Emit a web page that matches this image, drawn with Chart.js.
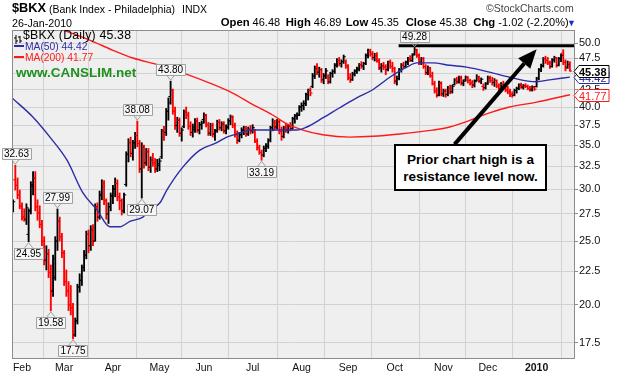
<!DOCTYPE html>
<html><head><meta charset="utf-8">
<script src="https://cdn.jsdelivr.net/npm/chart.js@4.4.1/dist/chart.umd.min.js"></script>
<style>
html,body{margin:0;padding:0;background:#fff;}
#wrap{position:relative;width:618px;height:374px;overflow:hidden;font-family:"Liberation Sans",Arial,sans-serif;color:#000;}
#c{position:absolute;left:0;top:0;}
.t{position:absolute;white-space:nowrap;line-height:1;}
#note{position:absolute;left:394px;top:144px;width:149px;height:38px;border:2px solid #000;background:#fff;
 font-weight:bold;font-size:13.5px;line-height:17px;text-align:center;padding-top:5px;}
</style></head><body>
<div id="wrap">
<canvas id="c" width="618" height="374"></canvas>
<div class="t" style="left:12px;top:2.4px;font-size:12.8px;font-weight:bold">$BKX</div>
<div class="t" style="left:49px;top:3.8px;font-size:10.5px">(Bank Index - Philadelphia)</div>
<div class="t" style="left:182px;top:3.8px;font-size:10.5px">INDX</div>
<div class="t" style="left:486px;top:3.2px;font-size:10.5px;color:#444">©StockCharts.com</div>
<div class="t" style="left:12px;top:17.6px;font-size:10.7px">26-Jan-2010</div>
<div class="t" style="left:220.7px;top:17.2px;font-size:11px"><b style="font-size:11.3px">Open</b> 46.48</div>
<div class="t" style="left:285.7px;top:17.2px;font-size:11px"><b style="font-size:11.3px">High</b> 46.89</div>
<div class="t" style="left:345.7px;top:17.2px;font-size:11px"><b style="font-size:11.3px">Low</b> 45.35</div>
<div class="t" style="left:405.7px;top:17.2px;font-size:11px"><b style="font-size:11.3px">Close</b> 45.38</div>
<div class="t" style="left:473.3px;top:17.2px;font-size:11px"><b style="font-size:11.3px">Chg</b> -1.02 (-2.20%)</div>
<div class="t" style="left:567px;top:18.5px;font-size:9px;color:#1030d0">▼</div>
<div class="t" style="left:14px;top:31px;"><svg width="9" height="9" viewBox="0 0 9 9"><path d="M2 0V9M0 3H2M2 6H4M6 1V8M4 2H6M6 6H8" stroke="#000" stroke-width="1" fill="none"/></svg></div>
<div class="t" style="left:23px;top:29.3px;font-size:12.3px;letter-spacing:0.2px">$BKX (Daily) 45.38</div>
<div class="t" style="left:14px;top:45px;width:10px;height:2px;background:#2c2ca8"></div>
<div class="t" style="left:25px;top:41.5px;font-size:10.3px;color:#2c2ca8">MA(50) 44.42</div>
<div class="t" style="left:14px;top:56px;width:10px;height:2px;background:#ff1a1a"></div>
<div class="t" style="left:25px;top:52.5px;font-size:10.3px;color:#ff1a1a">MA(200) 41.77</div>
<div class="t" style="left:16px;top:65.6px;font-size:13.5px;font-weight:bold;color:#1f8f1f">www.CANSLIM.net</div>
<div id="note">Prior chart high is a<br>resistance level now.</div>
</div>
<script>
// ---- data (daily OHLC, index 0 = 27-Jan-2009 ... 251 = 26-Jan-2010) ----
const openP = [
28.0,31.0,30.4,29.4,28.3,27.2,27.0,25.6,27.8,30.3,31.2,28.2,27.6,26.5,25.0,23.4,23.9,22.4,21.0,22.0,
25.0,26.8,25.4,24.0,21.7,21.0,20.0,19.8,18.0,18.9,21.3,21.8,22.8,23.8,25.6,24.6,26.0,25.0,28.2,27.2,
29.4,30.6,28.8,27.5,28.2,29.3,30.0,30.6,29.2,28.8,27.8,30.5,33.9,35.3,34.0,35.3,36.2,35.2,32.2,34.8,
32.9,34.2,32.4,33.2,32.9,32.2,32.6,33.6,36.8,36.6,39.4,41.5,42.4,39.4,37.5,38.2,36.5,37.4,39.3,38.9,
37.4,36.6,37.0,38.1,36.9,37.6,38.3,38.9,37.6,36.5,37.5,36.4,36.8,37.9,37.2,37.7,36.8,37.3,38.1,38.6,
37.5,36.3,35.6,36.3,36.9,37.1,36.4,37.0,36.8,36.9,35.5,34.7,34.1,33.8,34.6,34.9,35.6,37.2,37.9,37.3,
38.0,36.7,36.1,37.2,36.9,37.4,37.1,38.4,38.8,38.9,40.0,40.2,40.5,41.8,42.4,43.0,44.6,45.9,45.2,45.6,
44.0,44.6,44.6,43.7,45.0,45.3,46.3,47.1,46.6,46.9,47.0,46.2,44.3,44.0,44.9,45.4,45.7,46.4,46.2,46.6,
47.9,48.6,48.2,47.6,47.9,47.0,45.9,46.2,46.0,45.6,46.8,46.1,45.8,43.8,44.2,45.5,46.3,46.1,46.8,47.3,
47.1,48.2,48.9,47.9,46.8,47.4,46.1,45.1,45.8,44.6,43.4,42.3,41.7,43.5,41.9,42.3,41.8,42.7,42.2,43.3,
44.0,43.7,44.3,43.5,44.0,44.4,43.9,43.5,43.2,43.9,44.5,43.8,43.0,42.8,43.4,44.3,43.9,43.6,43.9,43.1,
42.6,43.3,43.0,42.5,42.2,41.8,41.7,42.4,42.7,43.2,42.9,43.1,43.0,42.7,42.5,42.9,43.0,44.2,45.6,46.2,
47.4,47.1,46.7,46.1,47.2,47.5,46.3,47.4,48.3,46.8,46.0,46.48];
const highP = [
28.9,32.63,31.2,29.9,28.6,28.0,28.5,28.0,30.8,31.9,31.9,28.9,28.3,26.9,25.4,24.6,24.3,23.0,23.8,25.4,
27.99,27.2,25.7,24.2,22.6,21.7,21.4,20.1,19.1,21.5,22.3,23.0,24.2,25.9,26.0,26.4,26.5,28.5,28.6,29.8,
31.0,30.9,29.0,28.6,29.6,30.4,31.2,31.0,29.6,29.0,29.6,34.2,35.8,36.0,35.6,36.6,38.08,35.6,35.3,35.0,
34.6,34.6,33.6,34.0,33.4,33.3,33.4,37.0,37.4,39.8,41.3,43.80,42.6,40.0,38.6,38.5,37.2,39.6,40.0,39.3,
38.0,37.7,38.4,38.5,37.9,38.1,39.2,39.0,37.9,37.8,37.8,37.0,38.2,38.3,38.0,38.0,37.6,38.4,38.9,38.8,
37.8,36.8,36.6,37.2,37.4,37.4,37.3,37.5,37.6,37.0,35.8,35.0,34.4,34.9,35.2,35.8,37.4,38.4,38.2,38.3,
38.2,37.3,37.4,37.8,37.6,37.9,38.6,39.0,39.2,40.2,40.6,40.9,42.0,42.6,42.8,45.0,46.2,46.6,46.0,45.8,
45.0,45.8,44.8,45.2,45.6,46.6,47.4,47.6,47.2,48.0,47.2,46.4,45.0,45.2,45.6,46.0,46.6,46.9,46.8,48.2,
49.0,49.0,48.6,48.3,48.4,47.4,46.6,46.8,46.4,47.0,47.2,46.8,46.0,44.6,45.8,46.6,46.8,47.0,47.6,47.9,
48.2,49.28,49.0,48.2,47.6,47.6,46.4,46.2,46.0,45.2,43.8,42.8,43.8,43.7,42.6,42.6,43.0,43.2,43.2,44.2,
44.4,44.6,44.6,44.0,44.6,44.5,44.1,43.9,44.0,44.8,44.6,44.3,43.4,43.6,44.6,44.6,44.4,44.2,44.0,43.4,
43.6,43.8,43.4,43.0,42.6,42.2,42.6,42.9,43.4,43.5,43.3,43.4,43.2,43.0,43.1,43.0,44.4,45.8,46.5,47.6,
47.8,47.6,47.0,47.4,47.8,47.6,47.6,48.2,48.9,47.2,47.0,46.89];
const lowP = [
27.7,29.9,29.0,28.0,26.9,26.8,26.5,24.95,27.5,29.4,27.8,26.9,26.2,24.6,23.0,22.6,22.0,19.58,20.6,21.8,
24.2,25.0,23.6,21.4,20.6,19.6,19.3,17.75,17.9,18.7,20.9,21.4,22.5,23.5,24.0,24.2,24.6,25.0,26.8,27.0,
28.9,28.4,27.0,26.6,27.8,28.5,29.2,28.8,27.9,27.4,27.6,30.3,33.0,33.6,33.2,34.6,34.8,31.8,29.07,32.3,
32.6,32.0,31.8,32.5,31.8,31.9,32.0,33.4,35.6,36.2,38.2,40.4,39.0,37.0,36.6,36.1,35.5,37.2,38.4,37.0,
36.2,36.0,36.6,36.6,36.4,37.0,37.8,37.3,36.2,36.2,36.0,35.6,36.6,36.9,36.8,36.5,36.4,37.0,37.6,37.2,
36.0,35.2,35.4,35.9,36.3,36.1,36.2,36.4,36.5,35.3,34.4,33.9,33.19,33.6,34.2,34.6,35.4,36.8,36.9,37.0,
36.4,35.6,35.9,36.6,36.5,36.8,37.0,37.8,38.3,38.8,39.4,39.6,40.2,41.0,41.6,42.8,44.2,44.8,44.4,43.6,
43.4,44.2,43.4,43.5,44.4,45.0,46.0,46.2,46.0,46.6,45.8,44.0,43.6,43.9,44.6,45.0,45.4,45.8,45.6,46.4,
47.5,47.8,47.2,47.0,46.8,45.6,45.2,45.6,44.8,45.4,45.8,45.2,43.4,43.2,44.0,45.2,45.8,45.9,46.4,46.9,
46.9,48.0,47.6,46.4,46.4,45.8,44.8,44.8,44.4,43.2,42.0,41.4,41.6,41.6,41.5,41.4,41.6,41.9,42.0,43.2,
43.4,43.5,43.2,43.1,43.8,43.5,43.2,42.8,42.9,43.8,43.6,43.4,42.4,42.6,43.3,43.6,43.2,43.0,42.8,42.2,
42.5,42.8,42.2,41.9,41.5,41.4,41.6,42.0,42.5,42.7,42.6,42.8,42.5,42.3,42.3,42.4,42.9,44.0,45.3,46.0,
46.6,46.4,45.8,46.0,46.8,46.0,46.2,46.9,46.4,45.4,45.8,45.35];
const closeP = [
28.7,30.4,29.4,28.3,27.2,27.0,28.1,27.8,30.5,31.2,28.2,27.6,26.5,25.0,23.4,23.9,22.4,20.8,23.5,25.0,
26.8,25.4,24.0,21.7,21.0,20.0,19.8,18.6,18.9,21.3,21.8,22.8,23.8,25.6,24.6,26.0,25.0,28.2,27.2,29.4,
30.6,28.8,27.5,28.2,29.3,30.0,30.6,29.2,28.8,27.8,29.4,33.9,35.3,34.0,35.3,36.2,35.2,32.2,34.8,32.9,
34.2,32.4,33.2,32.9,32.2,32.8,33.1,36.8,36.3,39.4,40.6,42.4,39.4,37.5,38.2,36.5,36.9,39.3,38.9,37.4,
36.6,37.3,38.1,36.9,37.6,37.8,38.9,37.6,36.5,37.5,36.4,36.8,37.9,37.2,37.7,36.8,37.3,38.1,38.6,37.5,
36.3,35.6,36.3,36.9,37.1,36.4,37.0,36.7,37.2,35.5,34.7,34.1,33.8,34.6,34.9,35.6,37.2,37.9,37.3,38.0,
36.7,36.1,37.2,36.9,37.4,37.1,38.4,38.8,38.9,40.0,40.2,40.5,41.8,42.4,42.0,44.6,45.9,45.2,45.6,44.0,
44.6,45.4,43.7,45.0,45.3,46.3,47.1,46.6,46.9,47.7,46.2,44.3,44.0,44.9,45.4,45.7,46.4,46.2,46.6,47.9,
48.6,48.2,47.6,47.9,47.0,45.9,46.2,46.0,45.6,46.8,46.1,45.8,43.8,44.2,45.5,46.3,46.1,46.8,47.3,47.1,
48.0,48.9,47.9,46.8,47.4,46.1,45.1,45.8,44.6,43.4,42.3,41.7,43.5,41.9,42.3,41.8,42.7,42.2,43.0,44.0,
43.7,44.3,43.5,43.8,44.4,43.9,43.5,43.2,43.7,44.5,43.8,44.1,42.8,43.4,44.3,43.9,43.6,43.9,43.1,42.6,
43.3,43.0,42.5,42.2,41.8,41.7,42.4,42.7,43.2,42.9,43.1,43.0,42.7,42.5,42.9,42.6,44.2,45.6,46.2,47.4,
47.1,46.7,46.1,47.2,47.5,46.3,47.4,47.9,46.8,45.8,46.4,45.38];

// moving averages: [trading-day index, value]
const ma50Idx = [-0.5,9,16.6,24.3,31.5,37.8,43.6,48.2,52.7,58.5,61.7,66.2,69.3,76.5,84.2,91.8,96.3,102.2,106.7,117,127.9,132.4,139.6,147.2,154.9,162.1,169.8,177.4,182,189.1,196.8,204.4,214.8,223.8,236,241.8,251];
const ma50Val = [41.3,38.6,36.0,33.2,29.6,27.9,26.3,26.3,26.8,27.2,27.9,28.6,29.9,32.4,34.4,35.3,36.0,36.5,36.9,36.9,36.9,37.3,38.5,39.9,41.3,42.5,44.4,46.0,46.7,46.7,46.3,46.0,45.2,44.4,43.7,44.0,44.42];
const ma200Idx = [-0.5,10,22.5,35,45,54,66.2,76.5,88.7,99,106.7,117,123.4,130.6,139.6,151.7,162.1,174.3,189.1,196.8,204.4,214.8,223.8,236,251];
const ma200Val = [56.5,54.3,52.4,50.5,48.8,47.5,46.3,45.1,43.5,42.0,40.6,38.9,37.7,36.9,36.3,36.0,36.1,36.4,36.9,37.3,38.0,39.2,40.0,40.7,41.77];

// axes
const monthTickIdx = [4,23,45,66,86,108,130,151,172,194,214,236];
const monthTickLabels = ['Feb','Mar','Apr','May','Jun','Jul','Aug','Sep','Oct','Nov','Dec','2010'];
const yTicks = [17.5,20,22.5,25,27.5,30,32.5,35,37.5,40,42.5,45,47.5,50];

// annotations
const peakLabels = [[1,32.63,'h'],[7,24.95,'l'],[17,19.58,'l'],[20,27.99,'h'],[27,17.75,'l'],[56,38.08,'h'],[58,29.07,'l'],[71,43.80,'h'],[112,33.19,'l'],[181,49.28,'h']];
const lastValues = [[44.42,'#2c2ca8',false],[45.38,'#000',true],[41.77,'#ff1a1a',false]];
const resistanceLevel = 49.6, resistanceFrom = 173.8;
const arrowFrom = [199, 35.1], arrowTo = [236, 49.0];

const RED = '#ff0000', BLACK = '#000000';
const idx = closeP.map((_, i) => i);
const barCol = idx.map(i => closeP[i] < openP[i] ? RED : BLACK);
const XMIN = -0.5, XMAX = 253.3;

const overlay = {
  id: 'overlay',
  beforeDraw(chart) {
    const { ctx, chartArea: a } = chart;
    ctx.save();
    ctx.fillStyle = '#fff'; ctx.fillRect(0, 0, chart.width, chart.height);
    ctx.fillStyle = '#efefef'; ctx.fillRect(a.left, a.top, a.right - a.left, a.bottom - a.top);
    ctx.restore();
  },
  afterDraw(chart) {
    const { ctx, chartArea: a } = chart;
    const xs = chart.scales.x, ys = chart.scales.y;
    ctx.save();
    ctx.strokeStyle = '#8c8c8c'; ctx.lineWidth = 1;
    ctx.strokeRect(a.left + 0.5, a.top + 0.5, a.right - a.left - 1, a.bottom - a.top);
    // peak / trough labels
    ctx.font = '10px "Liberation Sans", Arial, sans-serif';
    ctx.textAlign = 'center'; ctx.textBaseline = 'middle';
    peakLabels.forEach(([i, v, t]) => {
      const x = xs.getPixelForValue(i), y = ys.getPixelForValue(v);
      const txt = v.toFixed(2);
      const w = ctx.measureText(txt).width + 4, h = 11;
      const cx = Math.max(a.left + w / 2 - 10, x);
      let by, tipY, baseY;
      if (t === 'h') { tipY = y - 1; baseY = y - 6; by = baseY - h; }
      else { tipY = y + 1; baseY = y + 6; by = baseY; }
      ctx.fillStyle = '#f6f6f6'; ctx.strokeStyle = '#a0a0a0';
      ctx.beginPath(); ctx.rect(Math.round(cx - w / 2) + 0.5, Math.round(by) + 0.5, Math.round(w), h); ctx.fill(); ctx.stroke();
      ctx.beginPath(); ctx.moveTo(x - 4, baseY); ctx.lineTo(x, tipY); ctx.lineTo(x + 4, baseY); ctx.stroke();
      ctx.fillStyle = '#000'; ctx.fillText(txt, cx, by + h / 2 + 1);
    });
    // last value tags on the right axis
    lastValues.forEach(([v, col, bold]) => {
      const y = Math.round(ys.getPixelForValue(v)) + 0.5;
      const x0 = a.right - 1;
      ctx.beginPath();
      ctx.moveTo(x0, y); ctx.lineTo(x0 + 5, y - 6); ctx.lineTo(x0 + 35, y - 6); ctx.lineTo(x0 + 35, y + 6); ctx.lineTo(x0 + 5, y + 6); ctx.closePath();
      ctx.fillStyle = '#fff'; ctx.fill();
      ctx.strokeStyle = col; ctx.lineWidth = 1; ctx.stroke();
      ctx.fillStyle = col;
      ctx.font = (bold ? 'bold ' : '') + '11px "Liberation Sans", Arial, sans-serif';
      ctx.textAlign = 'left';
      ctx.fillText(v.toFixed(2), x0 + 5, y + 1);
    });
    // arrow
    const x1 = xs.getPixelForValue(arrowFrom[0]), y1 = ys.getPixelForValue(arrowFrom[1]);
    const x2 = xs.getPixelForValue(arrowTo[0]), y2 = ys.getPixelForValue(arrowTo[1]);
    const ang = Math.atan2(y2 - y1, x2 - x1), L = 19, W = 8;
    const bx = x2 - L * Math.cos(ang), by2 = y2 - L * Math.sin(ang);
    ctx.strokeStyle = '#000'; ctx.lineWidth = 4; ctx.lineCap = 'butt';
    ctx.beginPath(); ctx.moveTo(x1, y1); ctx.lineTo(bx, by2); ctx.stroke();
    ctx.fillStyle = '#000';
    ctx.beginPath(); ctx.moveTo(x2, y2);
    ctx.lineTo(bx + W * Math.sin(ang), by2 - W * Math.cos(ang));
    ctx.lineTo(bx - W * Math.sin(ang), by2 + W * Math.cos(ang));
    ctx.closePath(); ctx.fill();
    ctx.restore();
  }
};

const FONT = '"Liberation Sans", Arial, sans-serif';
new Chart(document.getElementById('c'), {
  type: 'bar',
  data: {
    datasets: [
      { type: 'line', data: ma50Idx.map((x, k) => ({ x, y: ma50Val[k] })), borderColor: '#2c2ca8', borderWidth: 1.4,
        pointRadius: 0, cubicInterpolationMode: 'monotone', order: 1 },
      { type: 'line', data: ma200Idx.map((x, k) => ({ x, y: ma200Val[k] })), borderColor: '#ff1a1a', borderWidth: 1.4,
        pointRadius: 0, cubicInterpolationMode: 'monotone', order: 1 },
      { type: 'line', data: [{ x: resistanceFrom, y: resistanceLevel }, { x: XMAX, y: resistanceLevel }], borderColor: '#000',
        borderWidth: 3, pointRadius: 0, order: 0 },
      { type: 'bar', data: idx.map(i => ({ x: i, y: [lowP[i], highP[i]] })), backgroundColor: barCol, borderWidth: 0,
        barThickness: 1.2, grouped: false, order: 3 },
      { type: 'line', data: idx.map(i => ({ x: i - 0.5, y: openP[i] })), showLine: false, pointStyle: 'line',
        pointRadius: 1.1, pointBorderWidth: 1, pointBorderColor: barCol, order: 2 },
      { type: 'line', data: idx.map(i => ({ x: i + 0.5, y: closeP[i] })), showLine: false, pointStyle: 'line',
        pointRadius: 1.1, pointBorderWidth: 1, pointBorderColor: barCol, order: 2 }
    ]
  },
  options: {
    responsive: false, animation: false, devicePixelRatio: 1, events: [],
    layout: { padding: { left: 12, top: 30, right: 0, bottom: 0 } },
    plugins: { legend: { display: false }, tooltip: { enabled: false } },
    scales: {
      x: {
        type: 'linear', min: XMIN, max: XMAX, offset: false,
        afterBuildTicks: s => { s.ticks = monthTickIdx.map(v => ({ value: v })); },
        afterFit: s => { s.height = 16; },
        grid: { color: '#d2d2d2', drawTicks: false },
        border: { display: false },
        ticks: {
          padding: 4, color: '#111', maxRotation: 0, autoSkip: false,
          font: c => ({ family: FONT, size: 10.5, weight: (c.tick && c.tick.value === 236) ? 'bold' : 'normal' }),
          callback: v => monthTickLabels[monthTickIdx.indexOf(v)]
        }
      },
      y: {
        type: 'logarithmic', position: 'right', min: 16.6, max: 52.4,
        afterBuildTicks: s => { s.ticks = yTicks.map(v => ({ value: v })); },
        afterFit: s => { s.width = 43; },
        grid: { color: '#d2d2d2', drawTicks: true, tickLength: 3, tickColor: '#8c8c8c' },
        border: { display: false },
        ticks: { padding: 1, color: '#111', font: { family: FONT, size: 11 }, callback: v => Number(v).toFixed(1) }
      }
    }
  },
  plugins: [overlay]
});
</script>
</body></html>
